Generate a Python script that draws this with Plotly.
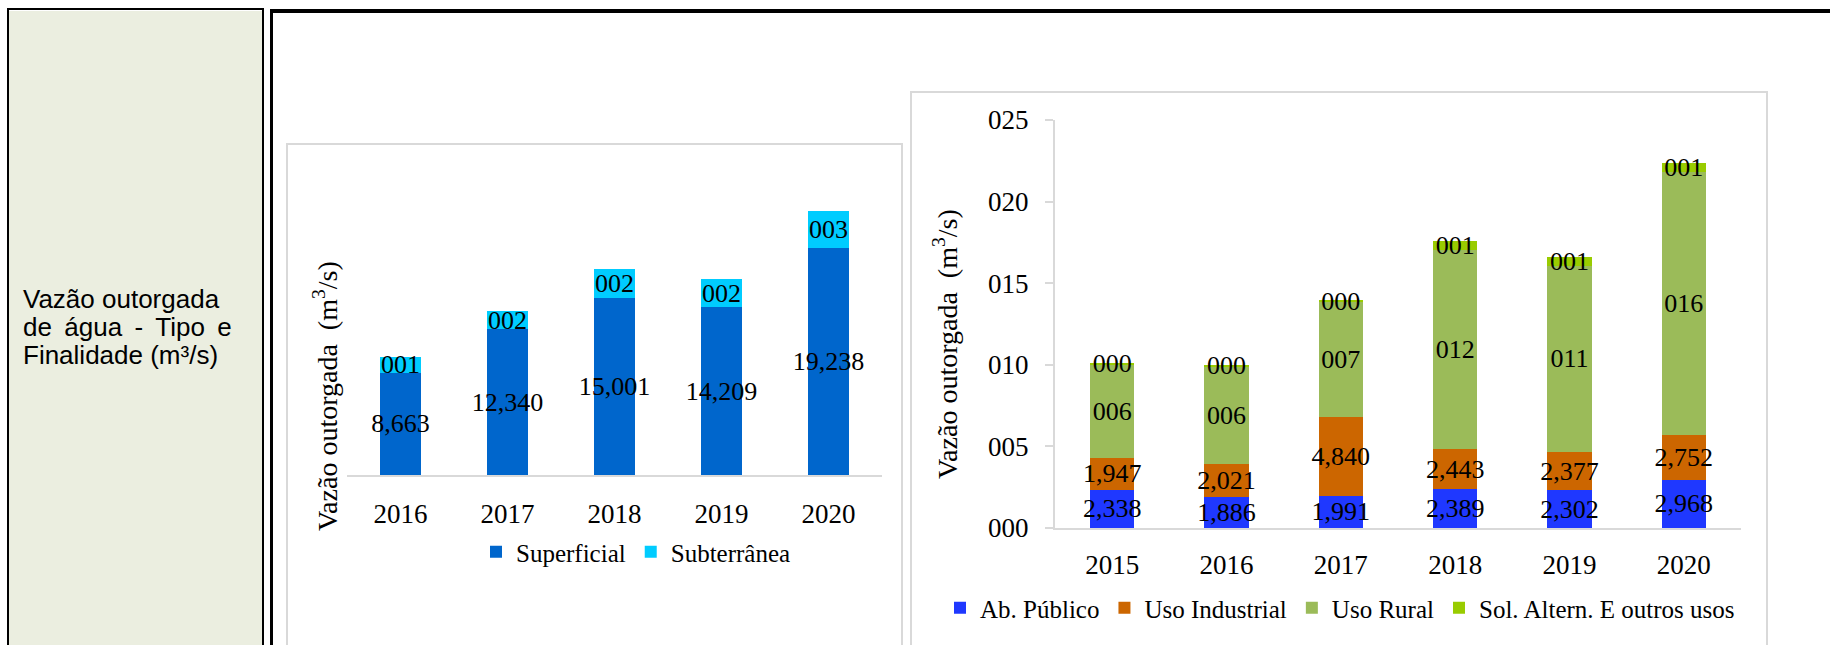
import plotly.graph_objects as go

W, H = 1830, 645

# ---------------- data ----------------
years_left = ["2016", "2017", "2018", "2019", "2020"]
superficial = [8.663, 12.340, 15.001, 14.209, 19.238]
subterranea = [1.34, 1.56, 2.45, 2.40, 3.13]

years_right = ["2015", "2016", "2017", "2018", "2019", "2020"]
ab_publico = [2.338, 1.886, 1.991, 2.389, 2.302, 2.968]
uso_industrial = [1.947, 2.021, 4.840, 2.443, 2.377, 2.752]
uso_rural = [5.72, 5.99, 6.99, 12.20, 11.36, 16.08]
sol_altern = [0.13, 0.12, 0.15, 0.55, 0.55, 0.55]

y_ticks = [0, 5, 10, 15, 20, 25]

# -------------- helpers ---------------
def px(x):
    return x / W

def py(y):
    return 1 - y / H

def fmt_dec(v):
    return f"{v:.3f}".replace(".", ",")

def fmt_int(v):
    return f"{round(v):03d}"

SERIF = "Liberation Serif"
LBL = dict(family=SERIF, size=26, color="black")

C_SUP = "#0066CC"
C_SUB = "#00CCFF"
C_AB = "#1F38FF"
C_IND = "#CC6600"
C_RUR = "#9BBB59"
C_SOL = "#99CC00"
GRID = "#D9D9D9"

fig = go.Figure()

def bar(x, y, name, color, text, xa, ya, legend):
    fig.add_trace(go.Bar(
        x=x, y=y, name=name, marker=dict(color=color, line=dict(width=0)),
        text=text, textposition="inside", insidetextanchor="middle",
        constraintext="none", textangle=0, textfont=LBL,
        xaxis=xa, yaxis=ya, legend=legend, cliponaxis=False,
        hoverinfo="skip",
    ))

bar(years_left, superficial, "Superficial", C_SUP, [fmt_dec(v) for v in superficial], "x", "y", "legend")
bar(years_left, subterranea, "Subterrânea", C_SUB, [fmt_int(v) for v in subterranea], "x", "y", "legend")

bar(years_right, ab_publico, "Ab. Público", C_AB, [fmt_dec(v) for v in ab_publico], "x2", "y2", "legend2")
bar(years_right, uso_industrial, "Uso Industrial", C_IND, [fmt_dec(v) for v in uso_industrial], "x2", "y2", "legend2")
bar(years_right, uso_rural, "Uso Rural", C_RUR, [fmt_int(v) for v in uso_rural], "x2", "y2", "legend2")
bar(years_right, sol_altern, "Sol. Altern. E outros usos", C_SOL, [fmt_int(v) for v in sol_altern], "x2", "y2", "legend2")

# -------------- decorative table frame --------------
shapes = []
def rect(x0, y0, x1, y1, fill=None, line=None, lw=0, layer="below"):
    d = dict(type="rect", xref="paper", yref="paper",
             x0=px(x0), x1=px(x1), y0=py(y0), y1=py(y1), layer=layer)
    d["fillcolor"] = fill if fill else "rgba(0,0,0,0)"
    d["line"] = dict(color=line if line else "rgba(0,0,0,0)", width=lw)
    shapes.append(d)

rect(9, 11, 262, 660, fill="#EBEEE0")
rect(7, 8, 9, 660, fill="black")
rect(7, 8, 264, 10, fill="black")
rect(262, 8, 264, 660, fill="black")
rect(270, 9, 1830, 13, fill="black")
rect(270, 9, 273, 660, fill="black")
rect(287, 144, 902, 700, line=GRID, lw=2)
rect(911, 92, 1767, 700, line=GRID, lw=2)

annotations = []
LEFT_FONT = dict(family="Liberation Sans, Arial", size=26, color="black")
for txt, yb in [("Vazão outorgada", 308),
                ("de\u2009 água\u2009 -\u2009 Tipo\u2009 e", 336),
                ("Finalidade (m³/s)", 364)]:
    annotations.append(dict(text=txt, xref="paper", yref="paper", x=px(21), y=py(yb - 9),
                            xanchor="left", yanchor="middle", showarrow=False, font=LEFT_FONT))

TITLE = "Vazão outorgada\u00a0\u00a0(m<sup>3</sup>/s)"
TITLE_FONT = dict(family=SERIF, size=28, color="black")
annotations.append(dict(text=TITLE, xref="paper", yref="paper", x=px(325), y=py(396),
                        xanchor="center", yanchor="middle", textangle=-90, showarrow=False,
                        font=TITLE_FONT))
annotations.append(dict(text=TITLE, xref="paper", yref="paper", x=px(945), y=py(344),
                        xanchor="center", yanchor="middle", textangle=-90, showarrow=False,
                        font=TITLE_FONT))

TICKFONT = dict(family=SERIF, size=27, color="black")
LEGFONT = dict(family=SERIF, size=25, color="black")

fig.update_layout(
    width=W, height=H, margin=dict(l=0, r=0, t=0, b=0, autoexpand=False),
    paper_bgcolor="white", plot_bgcolor="rgba(0,0,0,0)",
    barmode="stack", bargap=0.61,
    font=dict(family=SERIF, color="black"),
    shapes=shapes, annotations=annotations,
    xaxis=dict(domain=[px(347), px(882)], anchor="y", showline=True, linecolor=GRID, linewidth=2,
               ticks="", tickfont=TICKFONT, ticklabelstandoff=14, showgrid=False, zeroline=False,
               fixedrange=True),
    yaxis=dict(domain=[py(475), py(180)], anchor="x", range=[0, 25], visible=False, fixedrange=True),
    xaxis2=dict(domain=[px(1055), px(1741)], anchor="y2", showline=True, linecolor=GRID, linewidth=2,
                ticks="", tickfont=TICKFONT, ticklabelstandoff=12, showgrid=False, zeroline=False,
                fixedrange=True),
    yaxis2=dict(domain=[py(528), py(120)], anchor="x2", range=[0, 25], tickvals=y_ticks,
                ticktext=[f"{v:03d}" for v in y_ticks], showline=True, linecolor=GRID, linewidth=2,
                ticks="outside", ticklen=8, tickwidth=2, tickcolor=GRID, ticklabelstandoff=11,
                tickfont=TICKFONT, showgrid=False, zeroline=False,
                fixedrange=True),
    legend=dict(orientation="h", x=px(636), y=py(552), xanchor="center", yanchor="middle",
                font=LEGFONT, bgcolor="rgba(0,0,0,0)", traceorder="normal"),
    legend2=dict(orientation="h", x=px(1340), y=py(608), xanchor="center", yanchor="middle",
                 font=LEGFONT, bgcolor="rgba(0,0,0,0)", traceorder="normal"),
)

fig.write_html("out.html")
